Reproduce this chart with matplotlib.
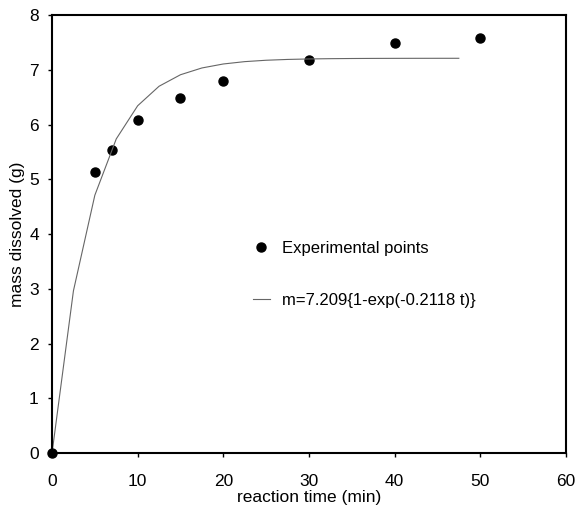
import numpy as np
import matplotlib.pyplot as plt

plt.rcParams['font.family'] = ['Liberation Sans', 'DejaVu Sans']

# experimental points
t_exp = [0, 5, 7, 10, 15, 20, 30, 40, 50]
m_exp = [0.0, 5.14, 5.53, 6.08, 6.48, 6.80, 7.18, 7.48, 7.58]

# fitted model m = a(1 - exp(-k t)), drawn at 2.5 min steps up to 47.5 min
a_fit = 7.209
k_fit = 0.2118
t_fit = np.arange(0, 48, 2.5)
m_fit = a_fit * (1 - np.exp(-k_fit * t_fit))

fig = plt.figure(figsize=(5.78, 5.15), dpi=100)
ax = fig.add_axes([0.09, 0.12, 0.889, 0.851])

ax.plot(t_exp, m_exp, 'o', color='black', markersize=6.5, label='Experimental points')
ax.plot(t_fit, m_fit, '-', color='#666666', linewidth=0.8,
        label='m=7.209{1-exp(-0.2118 t)}')

ax.set_xlim(0, 60)
ax.set_ylim(0, 8)
ax.set_xticks(range(0, 61, 10))
ax.set_yticks(range(0, 9))
ax.set_xlabel('reaction time (min)', fontsize=12.5, labelpad=1)
ax.set_ylabel('mass dissolved (g)', fontsize=12.5, labelpad=3)
ax.tick_params(labelsize=12.5, direction='out', length=3, width=1)
ax.tick_params(axis='x', pad=12)
ax.tick_params(axis='y', pad=6.5)
for s in ax.spines.values():
    s.set_linewidth(1.5)
for ln in ax.lines:
    ln.set_clip_on(False)

ax.legend(loc='upper left', bbox_to_anchor=(253 / 578, 1 - 241 / 515),
          bbox_transform=fig.transFigure, frameon=False, fontsize=12,
          labelspacing=2.2, handlelength=1.0, handletextpad=0.75, borderpad=0,
          borderaxespad=0)

fig.savefig('out.png', dpi=100)
